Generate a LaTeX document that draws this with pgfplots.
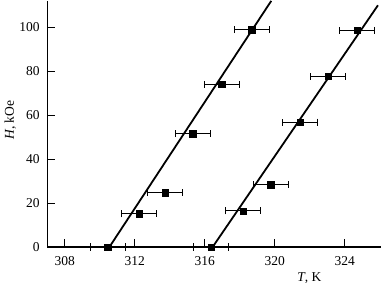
\documentclass[border=0pt]{standalone}
\usepackage{fontspec}
\setmainfont{Liberation Serif}
\usepackage{pgfplots}
\pgfplotsset{compat=1.18}
\pgfplotstableread{
T H e
310.46 0 1.0
312.25 15.1 1.0
313.73 24.8 1.0
315.31 51.6 1.0
316.97 74.0 1.0
318.69 98.9 1.0
}\seriesA
\pgfplotstableread{
T H e
316.36 0 1.0
318.21 16.4 1.0
319.77 28.3 1.0
321.45 56.8 1.0
323.07 77.6 1.0
324.70 98.6 1.0
}\seriesB
\begin{document}
\fontsize{13.5}{15}\selectfont
\begin{tikzpicture}
\begin{axis}[
  scale only axis, width=334pt, height=246pt,
  xmin=307, xmax=326.1, ymin=0, ymax=112,
  axis lines=left, axis line style={-, line width=1.1pt},
  xtick={308,312,...,324}, ytick={0,20,...,100},
  tick align=inside, major tick length=8pt,
  tick style={line width=1pt, black},
  /pgf/number format/assume math mode=true,
  /pgf/number format/1000 sep={},
  tick label style={font=\fontsize{13.5}{15}\selectfont},
  label style={font=\fontsize{13.5}{15}\selectfont},
  xticklabel style={yshift=-5pt},
  yticklabel style={xshift=-3pt},
  xlabel={\textit{T}, K},
  ylabel={\textit{H}, kOe},
  xlabel style={at={(axis description cs:0.784,0)}, anchor=north, yshift=-21pt},
  ylabel style={at={(axis description cs:-0.111,0.516)}, anchor=center},
  clip=false,
]
\addplot[line width=1.8pt, black] coordinates {(310.55,0) (319.8,112)};
\addplot[line width=1.8pt, black] coordinates {(316.45,0) (325.9,110)};
\addplot[only marks, mark=square*, mark size=3.2pt, black,
  error bars/.cd, x dir=both, x explicit,
  error bar style={line width=1pt, black},
  error mark options={mark size=3.5pt, line width=1pt, black, rotate=90}]
  table[x=T, y=H, x error=e]{\seriesA};
\addplot[only marks, mark=square*, mark size=3.2pt, black,
  error bars/.cd, x dir=both, x explicit,
  error bar style={line width=1pt, black},
  error mark options={mark size=3.5pt, line width=1pt, black, rotate=90}]
  table[x=T, y=H, x error=e]{\seriesB};
\end{axis}
\end{tikzpicture}
\end{document}
